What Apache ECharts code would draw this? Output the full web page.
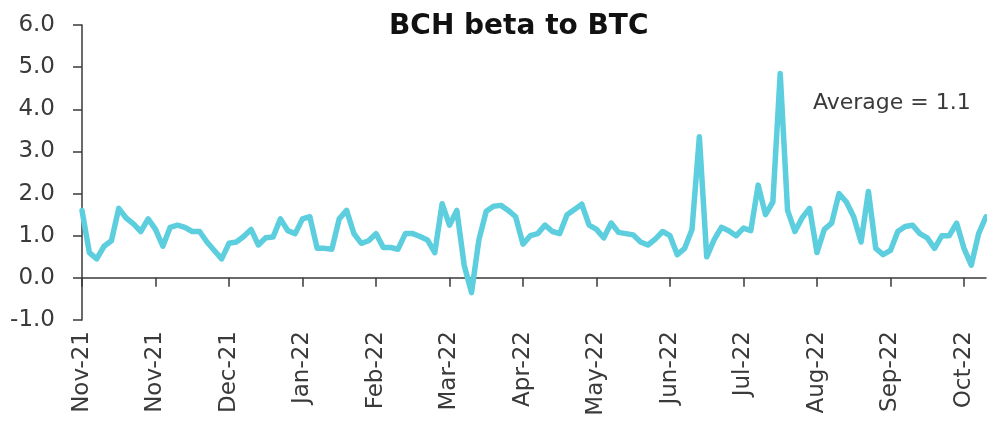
<!DOCTYPE html>
<html>
<head>
<meta charset="utf-8">
<title>BCH beta to BTC</title>
<script src="https://cdn.jsdelivr.net/npm/echarts@6/dist/echarts.min.js"></script>
<style>
  html, body { margin: 0; padding: 0; background: #fff; }
  #main { width: 987px; height: 429px; }
</style>
</head>
<body>
<div id="main"></div>
<script>
// tick labels, one every 10 points
var tickLabels = ['Nov-21', 'Nov-21', 'Dec-21', 'Jan-22', 'Feb-22', 'Mar-22', 'Apr-22',
    'May-22', 'Jun-22', 'Jul-22', 'Aug-22', 'Sep-22', 'Oct-22'];

// beta values
var beta = [
    1.6, 0.6, 0.45, 0.75, 0.88, 1.65, 1.42, 1.28, 1.1, 1.4,
    1.15, 0.75, 1.2, 1.25, 1.2, 1.1, 1.1, 0.85, 0.65, 0.45,
    0.82, 0.85, 0.98, 1.15, 0.78, 0.95, 0.97, 1.4, 1.12, 1.05,
    1.4, 1.45, 0.7, 0.7, 0.68, 1.4, 1.6, 1.05, 0.82, 0.88,
    1.05, 0.72, 0.72, 0.68, 1.05, 1.05, 0.98, 0.9, 0.6, 1.76,
    1.25, 1.6, 0.3, -0.35, 0.9, 1.58, 1.7, 1.72, 1.6, 1.45,
    0.8, 1.0, 1.05, 1.25, 1.1, 1.05, 1.5, 1.62, 1.75, 1.25,
    1.15, 0.95, 1.3, 1.08, 1.05, 1.02, 0.85, 0.78, 0.92, 1.1,
    1.0, 0.55, 0.7, 1.15, 3.35, 0.5, 0.9, 1.2, 1.12, 1.0,
    1.18, 1.12, 2.2, 1.5, 1.8, 4.85, 1.6, 1.1, 1.43, 1.65,
    0.6, 1.15, 1.3, 2.0, 1.8, 1.45, 0.85, 2.05, 0.7, 0.55,
    0.65, 1.1, 1.22, 1.25, 1.05, 0.95, 0.7, 1.0, 1.0, 1.3,
    0.7, 0.3, 1.05, 1.45
];

var averageText = 'Average = 1.1';

var categories = [];
for (var i = 0; i < beta.length; i++) {
    categories.push(i % 10 === 0 && tickLabels[i / 10] ? tickLabels[i / 10] : '');
}

var txtColor = '#3a3a3a';
var fontFam = '"DejaVu Sans", sans-serif';

var myChart = echarts.init(document.getElementById('main'));
var option = {
    animation: false,
    title: {
        text: 'BCH beta to BTC',
        left: 384,
        top: 8,
        textStyle: { fontFamily: fontFam, fontSize: 28, fontWeight: 'bold', color: '#111' }
    },
    grid: { left: 82, right: 1, top: 25, bottom: 109, containLabel: false },
    xAxis: [
        {
            // line + ticks sitting on zero
            type: 'category',
            data: categories,
            boundaryGap: false,
            axisLine: { onZero: true, lineStyle: { color: txtColor, width: 1.5 } },
            axisTick: { interval: 9, length: 9, lineStyle: { color: txtColor, width: 1.5 } },
            axisLabel: { show: false },
            splitLine: { show: false }
        },
        {
            // labels at the bottom
            type: 'category',
            data: categories,
            boundaryGap: false,
            position: 'bottom',
            axisLine: { show: false, onZero: false },
            axisTick: { show: false },
            axisLabel: {
                interval: 9,
                rotate: 90,
                margin: 11,
                fontFamily: fontFam,
                fontSize: 23,
                color: txtColor
            },
            splitLine: { show: false }
        }
    ],
    yAxis: {
        type: 'value',
        min: -1,
        max: 6,
        interval: 1,
        axisLine: { show: true, lineStyle: { color: txtColor, width: 1.5 } },
        axisTick: { show: true, length: 9, lineStyle: { color: txtColor, width: 1.5 } },
        axisLabel: {
            margin: 27,
            fontFamily: fontFam,
            fontSize: 23,
            color: txtColor,
            formatter: function (v) { return v.toFixed(1); }
        },
        splitLine: { show: false }
    },
    graphic: [{
        type: 'text',
        left: 813,
        top: 92,
        style: { text: averageText, font: '22px ' + fontFam, fill: txtColor }
    }],
    series: [{
        name: 'BCH beta',
        type: 'line',
        xAxisIndex: 0,
        data: beta,
        showSymbol: false,
        smooth: false,
        lineStyle: { color: '#5CCEDE', width: 5.5, join: 'round', cap: 'round' }
    }]
};
myChart.setOption(option);
</script>
</body>
</html>
